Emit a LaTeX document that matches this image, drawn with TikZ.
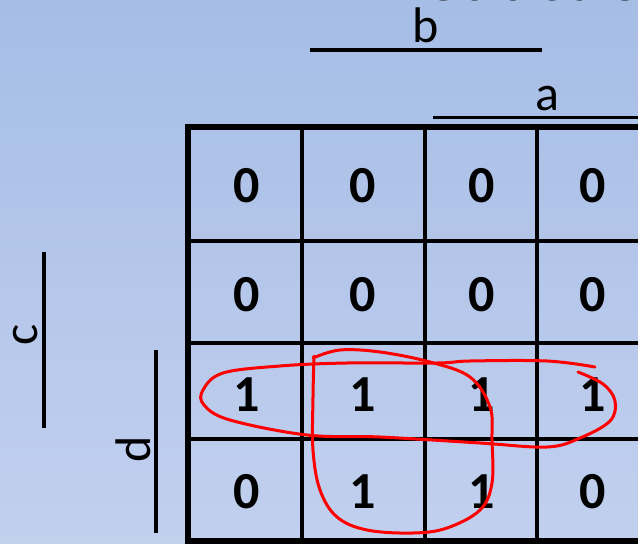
\documentclass[tikz,border=0pt]{standalone}
\usepackage{fontspec}
\setmainfont{Carlito}
\definecolor{bgtop}{RGB}{166,189,230}
\definecolor{bgbot}{RGB}{194,208,238}
\definecolor{loopred}{RGB}{255,0,0}
\begin{document}
\begin{tikzpicture}[x=1pt,y=-1pt,
  cellval/.style={font=\fontsize{52}{52}\selectfont\bfseries, inner sep=0pt, anchor=center},
  varlbl/.style={font=\fontsize{50}{50}\selectfont, inner sep=0pt},
  gridline/.style={line width=4pt, black},
  outerline/.style={line width=6pt, black},
  barline/.style={line width=3.5pt, black},
  redloop/.style={loopred, line width=3pt, line cap=round, line join=round}]
\useasboundingbox (0,0) rectangle (638,544);
\clip (0,0) rectangle (638,544);
\shade[top color=bgtop, bottom color=bgbot] (0,0) rectangle (638,544);
% cropped title
\node[font=\fontsize{72}{72}\selectfont, anchor=base west, inner sep=0pt] (title) at (386,0) {Reduction};
% grid
\foreach \x in {302,425,537} \draw[gridline] (\x,127) -- (\x,541);
\foreach \y in {241,343,439} \draw[gridline] (188,\y) -- (660,\y);
\draw[outerline] (660,127) -- (188,127) -- (188,541) -- (660,541);
% values
\node[cellval] (c11) at (247,186) {0};
\node[cellval] (c12) at (363,186) {0};
\node[cellval] (c13) at (482,186) {0};
\node[cellval] (c14) at (593,186) {0};
\node[cellval] (c21) at (247,295) {0};
\node[cellval] (c22) at (363,295) {0};
\node[cellval] (c23) at (482,295) {0};
\node[cellval] (c24) at (593,295) {0};
\node[cellval] (c31) at (247,395) {1};
\node[cellval] (c32) at (363,395) {1};
\node[cellval] (c33) at (482,395) {1};
\node[cellval] (c34) at (593,395) {1};
\node[cellval] (c41) at (247,492) {0};
\node[cellval] (c42) at (363,492) {1};
\node[cellval] (c43) at (482,492) {1};
\node[cellval] (c44) at (593,492) {0};
% variable labels
\node[varlbl, anchor=base] (lb) at (426,42) {b};
\coordinate (bL) at (310,50); \coordinate (bR) at (542,50);
\draw[barline] (bL) -- (bR);
\node[varlbl, anchor=base] (la) at (547,110) {a};
\coordinate (aL) at (433,117.5); \coordinate (aR) at (640,117.5);
\draw[barline] (aL) -- (aR);
\node[varlbl, anchor=base, rotate=90] (lc) at (37,335) {c};
\coordinate (cT) at (44,252); \coordinate (cB) at (44,428);
\draw[barline] (cT) -- (cB);
\node[varlbl, anchor=base, rotate=90] (ld) at (150,449) {d};
\coordinate (dT) at (156,350); \coordinate (dB) at (156,533);
\draw[barline] (dT) -- (dB);
% red loops
\draw[redloop] plot[smooth, tension=0.6] coordinates {
 (595,367) (547,361) (470,361) (437,363) (347,363) (280,366) (223,373) (203,390)
 (204,405) (230,420) (307,435) (380,437) (480,443) (547,447) (580,438)
 (610,421) (615,401) (603,384) (578,372)};
\draw[redloop] plot[smooth, tension=0.6] coordinates {
 (313,358) (340,350) (380,352) (430,362) (470,377) (490,407) (492,440)
 (492,483) (480,510) (447,528) (413,533) (367,530) (337,517) (320,490)
 (313,450) (313,397) (314,356)};
\end{tikzpicture}
\end{document}
